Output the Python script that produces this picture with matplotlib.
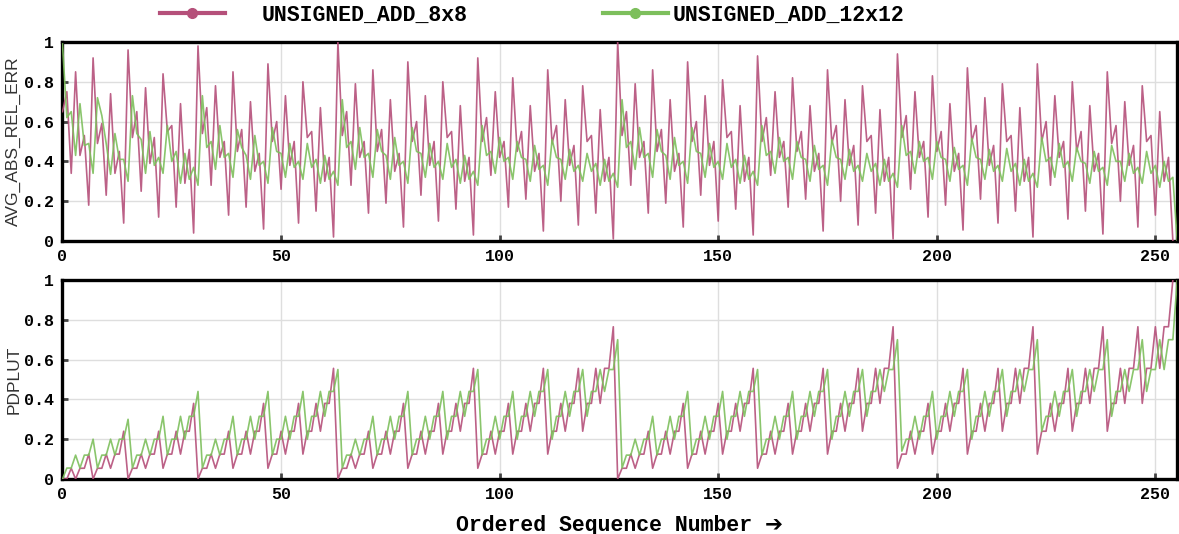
import numpy as np
import matplotlib
matplotlib.use("Agg")
import matplotlib.pyplot as plt
from matplotlib.lines import Line2D

# series names
name_8 = "UNSIGNED_ADD_8x8"
name_12 = "UNSIGNED_ADD_12x12"

# AVG_ABS_REL_ERR, 8x8 adder (255 configs)
err_8 = [
    0.65, 0.75, 0.34, 0.85, 0.43, 0.53, 0.18, 0.92, 0.49, 0.59, 0.23, 0.74, 0.34, 0.45, 0.09, 0.96,
    0.52, 0.65, 0.25, 0.77, 0.39, 0.52, 0.12, 0.84, 0.55, 0.58, 0.17, 0.69, 0.29, 0.46, 0.04, 0.98,
    0.54, 0.67, 0.28, 0.78, 0.42, 0.50, 0.13, 0.85, 0.45, 0.56, 0.17, 0.70, 0.35, 0.44, 0.06, 0.89,
    0.50, 0.60, 0.26, 0.73, 0.38, 0.50, 0.09, 0.80, 0.52, 0.55, 0.15, 0.67, 0.30, 0.42, 0.02, 1.00,
    0.53, 0.65, 0.28, 0.79, 0.42, 0.50, 0.14, 0.86, 0.45, 0.56, 0.19, 0.71, 0.35, 0.44, 0.07, 0.90,
    0.50, 0.60, 0.23, 0.73, 0.38, 0.50, 0.10, 0.80, 0.52, 0.55, 0.16, 0.68, 0.30, 0.42, 0.03, 0.92,
    0.50, 0.62, 0.33, 0.75, 0.42, 0.50, 0.17, 0.82, 0.45, 0.55, 0.21, 0.68, 0.35, 0.44, 0.05, 0.86,
    0.49, 0.58, 0.20, 0.71, 0.38, 0.48, 0.08, 0.78, 0.50, 0.53, 0.14, 0.66, 0.30, 0.42, 0.01, 1.00,
    0.53, 0.65, 0.28, 0.79, 0.42, 0.50, 0.14, 0.86, 0.45, 0.56, 0.19, 0.71, 0.35, 0.44, 0.07, 0.90,
    0.50, 0.60, 0.23, 0.73, 0.38, 0.50, 0.10, 0.81, 0.52, 0.55, 0.16, 0.68, 0.30, 0.42, 0.03, 0.93,
    0.50, 0.62, 0.33, 0.75, 0.42, 0.50, 0.17, 0.82, 0.45, 0.55, 0.21, 0.68, 0.35, 0.44, 0.05, 0.86,
    0.49, 0.58, 0.20, 0.71, 0.38, 0.48, 0.08, 0.78, 0.50, 0.53, 0.14, 0.66, 0.30, 0.42, 0.01, 0.94,
    0.52, 0.63, 0.26, 0.75, 0.42, 0.50, 0.12, 0.83, 0.45, 0.55, 0.18, 0.69, 0.35, 0.44, 0.055, 0.87,
    0.50, 0.58, 0.21, 0.72, 0.38, 0.48, 0.09, 0.79, 0.50, 0.53, 0.15, 0.67, 0.30, 0.42, 0.02, 0.89,
    0.50, 0.60, 0.28, 0.73, 0.42, 0.50, 0.11, 0.80, 0.45, 0.55, 0.15, 0.68, 0.35, 0.44, 0.035, 0.85,
    0.49, 0.58, 0.20, 0.70, 0.38, 0.48, 0.07, 0.78, 0.50, 0.53, 0.13, 0.65, 0.30, 0.42, 0.00,
]

# AVG_ABS_REL_ERR, 12x12 adder (256 configs)
err_12 = [
    0.99, 0.62, 0.65, 0.43, 0.69, 0.48, 0.49, 0.34, 0.72, 0.63, 0.49, 0.335, 0.54, 0.41, 0.41, 0.30,
    0.73, 0.54, 0.51, 0.34, 0.55, 0.38, 0.42, 0.34, 0.58, 0.40, 0.45, 0.29, 0.44, 0.31, 0.37, 0.28,
    0.73, 0.47, 0.50, 0.36, 0.58, 0.42, 0.44, 0.32, 0.56, 0.47, 0.43, 0.31, 0.53, 0.38, 0.40, 0.29,
    0.57, 0.45, 0.44, 0.32, 0.49, 0.37, 0.40, 0.31, 0.49, 0.37, 0.41, 0.29, 0.43, 0.31, 0.35, 0.28,
    0.71, 0.47, 0.50, 0.36, 0.57, 0.42, 0.44, 0.32, 0.56, 0.45, 0.43, 0.31, 0.52, 0.38, 0.40, 0.29,
    0.57, 0.45, 0.44, 0.32, 0.49, 0.37, 0.40, 0.31, 0.49, 0.37, 0.41, 0.29, 0.43, 0.31, 0.35, 0.28,
    0.58, 0.43, 0.45, 0.34, 0.52, 0.40, 0.42, 0.31, 0.50, 0.42, 0.41, 0.30, 0.48, 0.36, 0.38, 0.28,
    0.51, 0.42, 0.41, 0.31, 0.46, 0.35, 0.38, 0.30, 0.44, 0.35, 0.39, 0.28, 0.41, 0.30, 0.34, 0.27,
    0.71, 0.47, 0.50, 0.36, 0.57, 0.42, 0.44, 0.32, 0.56, 0.45, 0.43, 0.31, 0.52, 0.38, 0.40, 0.29,
    0.57, 0.45, 0.44, 0.32, 0.49, 0.37, 0.40, 0.31, 0.49, 0.37, 0.41, 0.29, 0.43, 0.31, 0.35, 0.28,
    0.58, 0.43, 0.45, 0.34, 0.52, 0.40, 0.42, 0.31, 0.50, 0.42, 0.41, 0.30, 0.48, 0.36, 0.38, 0.28,
    0.51, 0.42, 0.41, 0.31, 0.46, 0.35, 0.38, 0.30, 0.44, 0.35, 0.39, 0.28, 0.41, 0.30, 0.34, 0.27,
    0.58, 0.43, 0.45, 0.34, 0.50, 0.40, 0.42, 0.31, 0.50, 0.42, 0.41, 0.30, 0.47, 0.36, 0.38, 0.28,
    0.515, 0.42, 0.41, 0.31, 0.46, 0.35, 0.38, 0.30, 0.465, 0.35, 0.39, 0.28, 0.41, 0.30, 0.34, 0.27,
    0.52, 0.40, 0.42, 0.32, 0.49, 0.37, 0.40, 0.30, 0.47, 0.40, 0.39, 0.29, 0.45, 0.35, 0.37, 0.28,
    0.48, 0.40, 0.40, 0.30, 0.44, 0.34, 0.37, 0.29, 0.45, 0.34, 0.38, 0.27, 0.40, 0.30, 0.32, 0.00,
]

# PDPLUT, 8x8 adder (255 configs)
pdp_8 = [
    0.0, 0.0, 0.054, 0.0, 0.054, 0.054, 0.125, 0.0, 0.054, 0.054, 0.125, 0.054, 0.125, 0.125, 0.24,
    0.0, 0.054, 0.054, 0.125, 0.054, 0.125, 0.125, 0.24, 0.054, 0.125, 0.125, 0.24, 0.125, 0.24, 0.24, 0.38,
    0.0, 0.054, 0.054, 0.125, 0.054, 0.125, 0.125, 0.24, 0.054, 0.125, 0.125, 0.24, 0.125, 0.24, 0.24, 0.38,
    0.054, 0.125, 0.125, 0.24, 0.125, 0.24, 0.24, 0.38, 0.125, 0.24, 0.24, 0.38, 0.24, 0.38, 0.38, 0.556,
    0.0, 0.054, 0.054, 0.125, 0.054, 0.125, 0.125, 0.24, 0.054, 0.125, 0.125, 0.24, 0.125, 0.24, 0.24, 0.38,
    0.054, 0.125, 0.125, 0.24, 0.125, 0.24, 0.24, 0.38, 0.125, 0.24, 0.24, 0.38, 0.24, 0.38, 0.38, 0.556,
    0.054, 0.125, 0.125, 0.24, 0.125, 0.24, 0.24, 0.38, 0.125, 0.24, 0.24, 0.38, 0.24, 0.38, 0.38, 0.556,
    0.125, 0.24, 0.24, 0.38, 0.24, 0.38, 0.38, 0.556, 0.24, 0.38, 0.38, 0.556, 0.38, 0.556, 0.556, 0.765,
    0.0, 0.054, 0.054, 0.125, 0.054, 0.125, 0.125, 0.24, 0.054, 0.125, 0.125, 0.24, 0.125, 0.24, 0.24, 0.38,
    0.054, 0.125, 0.125, 0.24, 0.125, 0.24, 0.24, 0.38, 0.125, 0.24, 0.24, 0.38, 0.24, 0.38, 0.38, 0.556,
    0.054, 0.125, 0.125, 0.24, 0.125, 0.24, 0.24, 0.38, 0.125, 0.24, 0.24, 0.38, 0.24, 0.38, 0.38, 0.556,
    0.125, 0.24, 0.24, 0.38, 0.24, 0.38, 0.38, 0.556, 0.24, 0.38, 0.38, 0.556, 0.38, 0.556, 0.556, 0.765,
    0.054, 0.125, 0.125, 0.24, 0.125, 0.24, 0.24, 0.38, 0.125, 0.24, 0.24, 0.38, 0.24, 0.38, 0.38, 0.556,
    0.125, 0.24, 0.24, 0.38, 0.24, 0.38, 0.38, 0.556, 0.24, 0.38, 0.38, 0.556, 0.38, 0.556, 0.556, 0.765,
    0.125, 0.24, 0.24, 0.38, 0.24, 0.38, 0.38, 0.556, 0.24, 0.38, 0.38, 0.556, 0.38, 0.556, 0.556, 0.765,
    0.24, 0.38, 0.38, 0.556, 0.38, 0.556, 0.556, 0.765, 0.38, 0.556, 0.556, 0.765, 0.556, 0.765, 0.765, 1.0,
]

# PDPLUT, 12x12 adder (256 configs)
pdp_12 = [
    0.0, 0.055, 0.055, 0.12, 0.055, 0.12, 0.12, 0.2, 0.055, 0.12, 0.12, 0.2, 0.12, 0.2, 0.2, 0.30,
    0.055, 0.12, 0.12, 0.2, 0.12, 0.2, 0.2, 0.315, 0.12, 0.2, 0.2, 0.315, 0.2, 0.315, 0.315, 0.44,
    0.055, 0.12, 0.12, 0.2, 0.12, 0.2, 0.2, 0.315, 0.12, 0.2, 0.2, 0.315, 0.2, 0.315, 0.315, 0.44,
    0.12, 0.2, 0.2, 0.315, 0.2, 0.315, 0.315, 0.44, 0.2, 0.315, 0.315, 0.44, 0.315, 0.44, 0.44, 0.55,
    0.055, 0.12, 0.12, 0.2, 0.12, 0.2, 0.2, 0.315, 0.12, 0.2, 0.2, 0.315, 0.2, 0.315, 0.315, 0.44,
    0.12, 0.2, 0.2, 0.315, 0.2, 0.315, 0.315, 0.44, 0.2, 0.315, 0.315, 0.44, 0.315, 0.44, 0.44, 0.55,
    0.12, 0.2, 0.2, 0.315, 0.2, 0.315, 0.315, 0.44, 0.2, 0.315, 0.315, 0.44, 0.315, 0.44, 0.44, 0.55,
    0.2, 0.315, 0.315, 0.44, 0.315, 0.44, 0.44, 0.55, 0.315, 0.44, 0.44, 0.55, 0.44, 0.55, 0.55, 0.70,
    0.055, 0.12, 0.12, 0.2, 0.12, 0.2, 0.2, 0.315, 0.12, 0.2, 0.2, 0.315, 0.2, 0.315, 0.315, 0.44,
    0.12, 0.2, 0.2, 0.315, 0.2, 0.315, 0.315, 0.44, 0.2, 0.315, 0.315, 0.44, 0.315, 0.44, 0.44, 0.55,
    0.12, 0.2, 0.2, 0.315, 0.2, 0.315, 0.315, 0.44, 0.2, 0.315, 0.315, 0.44, 0.315, 0.44, 0.44, 0.55,
    0.2, 0.315, 0.315, 0.44, 0.315, 0.44, 0.44, 0.55, 0.315, 0.44, 0.44, 0.55, 0.44, 0.55, 0.55, 0.70,
    0.14, 0.2, 0.2, 0.315, 0.2, 0.315, 0.315, 0.44, 0.2, 0.315, 0.315, 0.44, 0.315, 0.44, 0.44, 0.55,
    0.2, 0.315, 0.315, 0.44, 0.315, 0.44, 0.44, 0.55, 0.315, 0.44, 0.44, 0.55, 0.44, 0.55, 0.55, 0.70,
    0.24, 0.315, 0.315, 0.44, 0.315, 0.44, 0.44, 0.55, 0.315, 0.44, 0.44, 0.55, 0.44, 0.55, 0.55, 0.70,
    0.315, 0.44, 0.44, 0.55, 0.44, 0.55, 0.55, 0.70, 0.44, 0.55, 0.55, 0.70, 0.55, 0.70, 0.70, 1.0,
]

x_ticks = [0, 50, 100, 150, 200, 250]
y_ticks = [0, 0.2, 0.4, 0.6, 0.8, 1]
y_ticklabels = ["0", "0.2", "0.4", "0.6", "0.8", "1"]

red = "#b5507a"
green = "#7dbf5c"
mono = "Liberation Mono"

fig = plt.figure(figsize=(11.79, 5.34), dpi=100)
ax1 = fig.add_axes([0.053, 0.5487, 0.9455, 0.3727])
ax2 = fig.add_axes([0.053, 0.1030, 0.9455, 0.3727])

panels = [(ax1, err_8, err_12, "AVG_ABS_REL_ERR"), (ax2, pdp_8, pdp_12, "PDPLUT")]
for ax, s8, s12, ylab in panels:
    ax.plot(np.arange(len(s8)), s8, color=red, lw=1.2, alpha=0.9, zorder=3)
    ax.plot(np.arange(len(s12)), s12, color=green, lw=1.2, alpha=0.9, zorder=3)
    ax.set_xlim(0, 255)
    ax.set_ylim(0, 1)
    ax.set_xticks(x_ticks)
    ax.set_yticks(y_ticks)
    ax.set_yticklabels(y_ticklabels)
    ax.grid(True, color="#dedede", lw=1.0, zorder=0)
    ax.set_axisbelow(True)
    for sp in ax.spines.values():
        sp.set_linewidth(2.4)
        sp.set_color("black")
    ax.tick_params(direction="in", length=4, width=2, color="#444444",
                   labelsize=12, pad=6)
    for lab in ax.get_xticklabels() + ax.get_yticklabels():
        lab.set_fontfamily(mono)
        lab.set_fontweight("bold")
    ax.set_ylabel(ylab, fontsize=12.5, family="Liberation Sans", color="#333333")
    ax.yaxis.set_label_coords(-0.037, 0.5)

ax2.set_xlabel("Ordered Sequence Number \u2794", fontsize=15.5, family=[mono, "DejaVu Sans"],
               fontweight="bold", labelpad=9)

# legend, two items placed separately
h8 = Line2D([], [], color=red, lw=3, marker="o", markersize=7)
h12 = Line2D([], [], color=green, lw=3, marker="o", markersize=7)
leg_font = {"family": mono, "weight": "bold", "size": 15.5}
fig.legend([h8], [name_8], loc="center left", bbox_to_anchor=(0.1357, 0.972),
           frameon=False, borderpad=0, borderaxespad=0, handlelength=3.0,
           handletextpad=1.7, prop=leg_font)
fig.legend([h12], [name_12], loc="center left", bbox_to_anchor=(0.5115, 0.972),
           frameon=False, borderpad=0, borderaxespad=0, handlelength=3.0,
           handletextpad=0.25, prop=leg_font)

fig.savefig("out.png", dpi=100)
